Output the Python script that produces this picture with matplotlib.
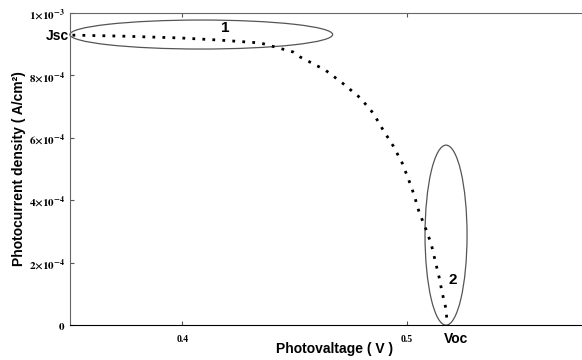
import matplotlib
matplotlib.use("Agg")
import matplotlib.pyplot as plt
from matplotlib.patches import Ellipse

# photovoltage (V) and photocurrent density (x1e-4 A/cm2)
voltage = [0.3511, 0.3724, 0.3991, 0.4169, 0.4347, 0.4493, 0.4524, 0.4636, 0.4711,
           0.4791, 0.4849, 0.4893, 0.4938, 0.4978, 0.5004, 0.5031, 0.5053, 0.5080,
           0.5107, 0.5124, 0.5142, 0.5156, 0.5173, 0.5178]
current = [9.29, 9.26, 9.20, 9.13, 9.04, 8.75, 8.59, 8.17, 7.76,
           7.28, 6.79, 6.25, 5.74, 5.19, 4.71, 4.17, 3.62, 3.14,
           2.60, 2.08, 1.54, 1.03, 0.51, 0.03]

yticks = [0, 2e-4, 4e-4, 6e-4, 8e-4, 1e-3]
ytick_labels = [r'$\mathbf{0}$', r'$\mathbf{2{\times}10^{-4}}$', r'$\mathbf{4{\times}10^{-4}}$',
                r'$\mathbf{6{\times}10^{-4}}$', r'$\mathbf{8{\times}10^{-4}}$',
                r'$\mathbf{1{\times}10^{-3}}$']
xticks = [0.4, 0.5]
xtick_labels = ['0.4', '0.5']

plt.rcParams['mathtext.fontset'] = 'stix'

fig = plt.figure(figsize=(5.82, 3.6), dpi=100)
# axes run past the right edge, like the cropped original
ax = fig.add_axes([70 / 582, 35 / 360, 530 / 582, 312 / 360])

J = [c * 1e-4 for c in current]
ax.plot(voltage, J, color='black', lw=2.0, linestyle=(0, (1, 2.6)))

ax.set_xlim(0.35, 0.5858)
ax.set_ylim(0, 1e-3)

ax.set_xticks(xticks)
ax.set_xticklabels(xtick_labels, fontfamily='Liberation Serif', fontweight='bold', fontsize=7)
ax.set_yticks(yticks)
ax.set_yticklabels(ytick_labels, fontsize=8)
ax.tick_params(direction='in', length=3, top=True, right=False, colors='#555555', labelcolor='black')
ax.tick_params(axis='x', pad=7)

for side in ['left', 'top']:
    ax.spines[side].set_color('#666666')
ax.spines['bottom'].set_color('black')
ax.spines['right'].set_visible(False)

ax.set_xlabel('Photovaltage ( V )', fontfamily='Liberation Sans', fontweight='bold', fontsize=10, labelpad=-1)
ax.set_ylabel('Photocurrent density ( A/cm²)', fontfamily='Liberation Sans', fontweight='bold', fontsize=10, labelpad=2)

# the two highlighted regions
ax.add_patch(Ellipse((0.4084, 9.31e-4), 0.1169, 0.93e-4, fill=False, edgecolor='#555555', lw=0.9, clip_on=False))
ax.add_patch(Ellipse((0.5173, 2.88e-4), 0.0187, 5.77e-4, fill=False, edgecolor='#555555', lw=0.9, clip_on=False))

ax.text(0.4191, 9.52e-4, '1', fontfamily='Liberation Sans', fontweight='bold', fontsize=11, ha='center', va='center')
ax.text(0.5205, 1.44e-4, '2', fontfamily='Liberation Sans', fontweight='bold', fontsize=11, ha='center', va='center')
ax.text(0.3495, 9.25e-4, 'Jsc', fontfamily='Liberation Sans', fontweight='bold', fontsize=10, ha='right', va='center')
ax.text(0.5162, -0.45e-4, 'Voc', fontfamily='Liberation Sans', fontweight='bold', fontsize=10, ha='left', va='center')

fig.savefig('out.png', dpi=100)
